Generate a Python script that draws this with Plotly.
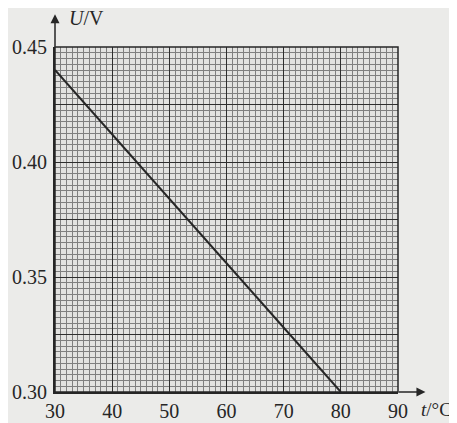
import plotly.graph_objects as go

# Data
temperature_c = [30, 80]
voltage_v = [0.44, 0.30]

x_tick_vals = [30, 40, 50, 60, 70, 80, 90]
x_tick_text = ["30", "40", "50", "60", "70", "80", "90"]
y_tick_vals = [0.30, 0.325, 0.35, 0.375, 0.40, 0.425, 0.45]
y_tick_text = ["0.30", "", "0.35", "", "0.40", "", "0.45"]

font_family = "Liberation Serif"
ink = "#262626"

fig = go.Figure()
fig.add_trace(go.Scatter(
    x=temperature_c, y=voltage_v, mode="lines",
    line=dict(color=ink, width=2), showlegend=False, hoverinfo="skip"))

# page has ~8px body margin, so the figure is slightly smaller than the window
fig.update_layout(
    width=449, height=415,
    margin=dict(l=47, r=59, t=39, b=31, autoexpand=False),
    paper_bgcolor="#ebebe9",
    plot_bgcolor="#e2e2e0",
    font=dict(family=font_family, size=20, color=ink),
)

fig.update_xaxes(
    range=[30, 90], tickvals=x_tick_vals, ticktext=x_tick_text,
    showgrid=True, gridcolor="#2e2e2e", gridwidth=1.4,
    minor=dict(dtick=1, showgrid=True, gridcolor="#7f7f7f", gridwidth=1),
    showline=True, linecolor=ink, linewidth=2, mirror=False,
    zeroline=False, ticks="", fixedrange=True, automargin=False,
    tickfont=dict(family=font_family, size=20, color=ink),
)
fig.update_yaxes(
    range=[0.30, 0.45], tickvals=y_tick_vals, ticktext=y_tick_text,
    showgrid=True, gridcolor="#2e2e2e", gridwidth=1.4,
    minor=dict(dtick=0.0025, tick0=0.30, showgrid=True, gridcolor="#7f7f7f", gridwidth=1),
    showline=True, linecolor=ink, linewidth=2, mirror=False,
    zeroline=False, ticks="", fixedrange=True, automargin=False,
    tickfont=dict(family=font_family, size=20, color=ink), ticklabelstandoff=2,
)

# border on top/right of the graph paper
fig.add_shape(type="rect", xref="paper", yref="paper", x0=0, y0=0, x1=1, y1=1,
              line=dict(color=ink, width=1.5))

# axis arrows
fig.add_annotation(xref="paper", yref="paper", x=1.08, y=0, ax=-28, ay=0,
                   text="", showarrow=True, arrowhead=2, arrowsize=1.2,
                   arrowwidth=1.5, arrowcolor=ink)
fig.add_annotation(xref="paper", yref="paper", x=0, y=1.095, ax=0, ay=34,
                   text="", showarrow=True, arrowhead=2, arrowsize=1.2,
                   arrowwidth=1.5, arrowcolor=ink)

# axis titles
fig.add_annotation(xref="paper", yref="paper", x=0.035, y=1.085, xanchor="left",
                   yanchor="middle", text="<i>U</i>/V", showarrow=False,
                   font=dict(family=font_family, size=20, color=ink))
fig.add_annotation(xref="paper", yref="paper", x=1.06, y=-0.05, xanchor="left",
                   yanchor="middle", text="<i>t</i>/°C", showarrow=False,
                   font=dict(family=font_family, size=19, color=ink))

fig.write_html("out.html")
